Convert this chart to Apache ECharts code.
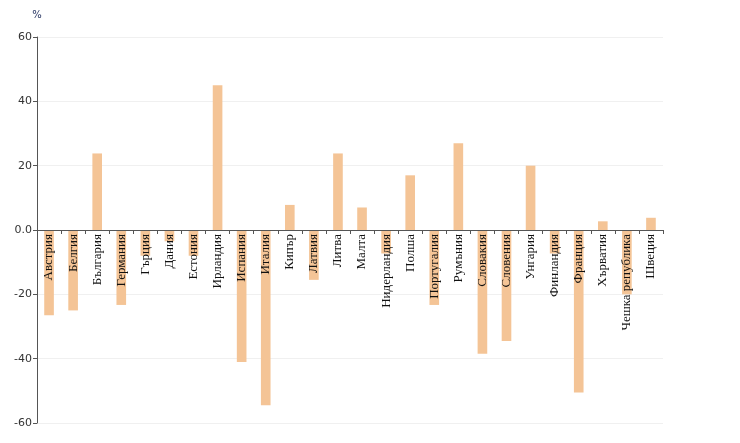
<!DOCTYPE html>
<html>
<head>
<meta charset="utf-8">
<script src="https://cdn.jsdelivr.net/npm/echarts@6/dist/echarts.min.js"></script>
<style>html,body{margin:0;padding:0;background:#fff;}#c{width:740px;height:443px;}</style>
</head>
<body>
<div id="c"></div>
<script>
var categories = ['Австрия','Белгия','България','Германия','Гърция','Дания','Естония','Ирландия','Испания','Италия','Кипър','Латвия','Литва','Малта','Нидерландия','Полша','Португалия','Румъния','Словакия','Словения','Унгария','Финландия','Франция','Хърватия','Чешка република','Швеция'];
var values = [-26.5, -25, 23.8, -23.3, -8, -3.5, -8, 45, -41, -54.5, 7.8, -15.5, 23.8, 7, -7.3, 17, -23.3, 27, -38.5, -34.5, 20, -7.3, -50.5, 2.7, -20, 3.8];
var yTickLabels = {'60':'60','40':'40','20':'20','0':'0.0','-20':'-20','-40':'-40','-60':'-60'};

var gridTop = 37, gridBottom = 20, H = 443;
var zeroOffset = -((H - gridTop - gridBottom) / 2);

var chart = echarts.init(document.getElementById('c'));
chart.setOption({
  animation: false,
  grid: {left: 37, right: 77, top: gridTop, bottom: gridBottom, containLabel: false},
  xAxis: {
    type: 'category',
    data: categories,
    position: 'bottom',
    offset: zeroOffset,
    axisLine: {onZero: false, lineStyle: {color: '#555', width: 1}},
    axisTick: {show: true, length: 4, lineStyle: {color: '#555'}},
    axisLabel: {rotate: 90, interval: 0, margin: 4, fontFamily: 'Liberation Serif', fontSize: 13, color: '#111'},
    z: 5
  },
  yAxis: {
    type: 'value',
    min: -60, max: 60, interval: 20,
    name: '%',
    nameLocation: 'end',
    nameGap: 17,
    nameTextStyle: {color: '#1f2d5c', fontSize: 10, fontFamily: 'DejaVu Sans', align: 'center'},
    axisLine: {show: true, lineStyle: {color: '#555', width: 1}},
    axisTick: {show: true, length: 4, lineStyle: {color: '#555'}},
    axisLabel: {fontSize: 11, color: '#333', fontFamily: 'DejaVu Sans', margin: 5,
      formatter: function (v) { return yTickLabels[String(v)] !== undefined ? yTickLabels[String(v)] : String(v); }},
    splitLine: {show: true, lineStyle: {color: '#f0f0f0'}}
  },
  series: [{
    type: 'bar',
    data: values,
    barWidth: '40%',
    itemStyle: {color: '#F4C496'},
    z: 2
  }]
});
</script>
</body>
</html>
